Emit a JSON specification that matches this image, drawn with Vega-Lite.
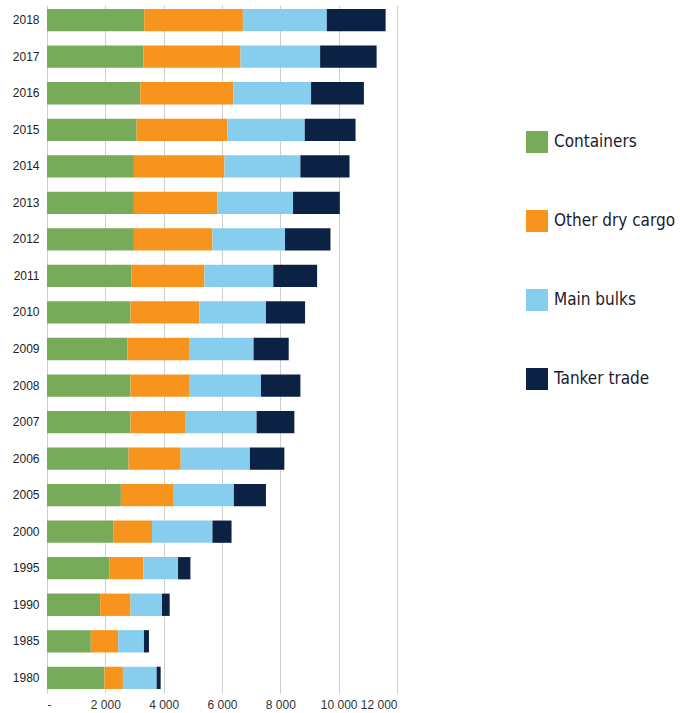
{
  "$schema": "https://vega.github.io/schema/vega-lite/v6.json",
  "width": 350,
  "height": 688,
  "padding": {"left": 12, "top": 5, "right": 5, "bottom": 5},
  "background": "white",
  "data": {
    "values": [
      {"year": "2018", "Containers": 3335, "Other dry cargo": 3381, "Main bulks": 2877, "Tanker trade": 2017},
      {"year": "2017", "Containers": 3301, "Other dry cargo": 3335, "Main bulks": 2728, "Tanker trade": 1937},
      {"year": "2016", "Containers": 3198, "Other dry cargo": 3197, "Main bulks": 2659, "Tanker trade": 1811},
      {"year": "2015", "Containers": 3072, "Other dry cargo": 3106, "Main bulks": 2659, "Tanker trade": 1742},
      {"year": "2014", "Containers": 2980, "Other dry cargo": 3106, "Main bulks": 2602, "Tanker trade": 1684},
      {"year": "2013", "Containers": 2980, "Other dry cargo": 2854, "Main bulks": 2602, "Tanker trade": 1604},
      {"year": "2012", "Containers": 2980, "Other dry cargo": 2693, "Main bulks": 2487, "Tanker trade": 1559},
      {"year": "2011", "Containers": 2888, "Other dry cargo": 2510, "Main bulks": 2361, "Tanker trade": 1502},
      {"year": "2010", "Containers": 2865, "Other dry cargo": 2361, "Main bulks": 2281, "Tanker trade": 1341},
      {"year": "2009", "Containers": 2762, "Other dry cargo": 2109, "Main bulks": 2212, "Tanker trade": 1204},
      {"year": "2008", "Containers": 2865, "Other dry cargo": 2029, "Main bulks": 2441, "Tanker trade": 1353},
      {"year": "2007", "Containers": 2865, "Other dry cargo": 1891, "Main bulks": 2430, "Tanker trade": 1295},
      {"year": "2006", "Containers": 2797, "Other dry cargo": 1788, "Main bulks": 2372, "Tanker trade": 1181},
      {"year": "2005", "Containers": 2533, "Other dry cargo": 1811, "Main bulks": 2063, "Tanker trade": 1100},
      {"year": "2000", "Containers": 2269, "Other dry cargo": 1330, "Main bulks": 2074, "Tanker trade": 654},
      {"year": "1995", "Containers": 2132, "Other dry cargo": 1169, "Main bulks": 1192, "Tanker trade": 424},
      {"year": "1990", "Containers": 1822, "Other dry cargo": 1043, "Main bulks": 1078, "Tanker trade": 263},
      {"year": "1985", "Containers": 1501, "Other dry cargo": 940, "Main bulks": 883, "Tanker trade": 172},
      {"year": "1980", "Containers": 1971, "Other dry cargo": 631, "Main bulks": 1157, "Tanker trade": 138}
    ]
  },
  "transform": [
    {"fold": ["Containers", "Other dry cargo", "Main bulks", "Tanker trade"], "as": ["type", "value"]},
    {"calculate": "indexof(['Containers','Other dry cargo','Main bulks','Tanker trade'], datum.type)", "as": "ord"}
  ],
  "mark": {"type": "bar"},
  "encoding": {
    "y": {
      "field": "year",
      "type": "nominal",
      "sort": "descending",
      "scale": {"paddingInner": 0.39, "paddingOuter": 0.11},
      "axis": {
        "title": null,
        "ticks": false,
        "domain": false,
        "labelPadding": 8,
        "labelFont": "Liberation Sans",
        "labelFontSize": 12,
        "labelFontWeight": "normal",
        "labelColor": "#222222"
      }
    },
    "x": {
      "field": "value",
      "type": "quantitative",
      "aggregate": "sum",
      "stack": "zero",
      "scale": {"domain": [0, 12000], "nice": false},
      "axis": {
        "title": null,
        "values": [0, 2000, 4000, 6000, 8000, 10000, 12000],
        "labelExpr": "datum.value == 0 ? '-' : replace(format(datum.value, ','), ',', ' ')",
        "ticks": false,
        "domain": false,
        "grid": true,
        "gridColor": "#cfcfcf",
        "gridWidth": 1,
        "labelPadding": 6,
        "labelFont": "Liberation Sans",
        "labelFontSize": 12,
        "labelColor": "#333333"
      }
    },
    "color": {
      "field": "type",
      "type": "nominal",
      "scale": {
        "domain": ["Containers", "Other dry cargo", "Main bulks", "Tanker trade"],
        "range": ["#77ab59", "#f7941e", "#87ceee", "#0b2244"]
      },
      "legend": {
        "title": null,
        "orient": "none",
        "legendX": 479,
        "legendY": 126,
        "symbolType": "square",
        "symbolSize": 484,
        "symbolStrokeWidth": 0,
        "labelFont": "DejaVu Sans Condensed",
        "labelFontSize": 17,
        "labelColor": "#1a1a2e",
        "labelOffset": 6,
        "rowPadding": 57,
        "labelLimit": 300
      }
    },
    "order": {"field": "ord", "type": "quantitative"}
  },
  "config": {"view": {"stroke": null}}
}
